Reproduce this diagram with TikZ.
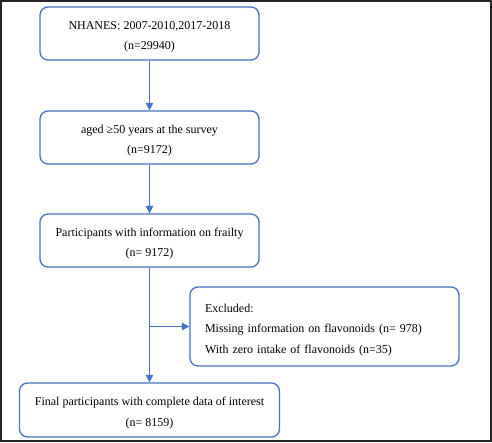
\documentclass[tikz,border=0pt]{standalone}
\usepackage{fontspec}
\setmainfont{Liberation Serif}
\usetikzlibrary{arrows.meta}
\definecolor{flowblue}{RGB}{68,114,196}
\newcommand{\boxstrut}{\rule{0pt}{15pt}}

\begin{document}
\begin{tikzpicture}[x=1pt,y=-1pt,>={Triangle[length=7.5pt,width=7.5pt]},
    box/.style={draw=flowblue, line width=1.3pt, rounded corners=8pt,
      align=center, inner sep=0pt, font=\fontsize{12}{20.5}\selectfont},
    link/.style={draw=flowblue, line width=1.3pt}]
  \useasboundingbox (0,0) rectangle (492,442);
  \draw[line width=1.6pt, black!85] (0.8,0.8) rectangle (491.2,441.2);
  % main column
  \node[box, minimum width=219pt, minimum height=53pt] (nhanes) at (149.5,33.5)
    {\boxstrut NHANES: 2007-2010,2017-2018\\(n=29940)};
  \node[box, minimum width=219pt, minimum height=53pt] (aged) at (149.5,137.5)
    {\boxstrut aged ≥50 years at the survey\\(n=9172)};
  \node[box, minimum width=219pt, minimum height=53pt] (frailty) at (149.5,240.5)
    {\boxstrut Participants with information on frailty\\(n= 9172)};
  \node[box, minimum width=260pt, minimum height=54pt] (final) at (149.5,410)
    {\boxstrut Final participants with complete data of interest\\(n= 8159)};
  % exclusion box
  \node[box, align=left, text width=239pt, inner xsep=15pt, minimum height=79pt]
    (excl) at (324.5,326.5)
    {\boxstrut Excluded:\\Missing information on flavonoids (n= 978)\\With zero intake of flavonoids (n=35)};
  \coordinate (split) at (frailty.south |- excl.west);
  \draw[link,->,flowblue] (nhanes) -- (aged);
  \draw[link,->,flowblue] (aged) -- (frailty);
  \draw[link,->,flowblue] (frailty) -- (final);
  \draw[link,->,flowblue] (split) -- (excl.west);
\end{tikzpicture}
\end{document}
